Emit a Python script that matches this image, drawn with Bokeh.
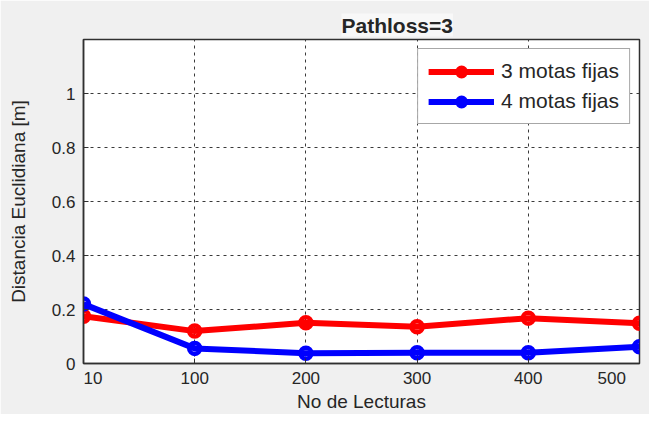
from bokeh.plotting import figure
from bokeh.models import FixedTicker, Range1d, Legend
from bokeh.embed import file_html
from bokeh.resources import INLINE

# ---- data ----
lecturas = [10, 100, 200, 300, 400, 500]
motas3 = [0.175, 0.12, 0.151, 0.136, 0.168, 0.149]
motas4 = [0.22, 0.056, 0.038, 0.04, 0.04, 0.062]
y_ticks = [0, 0.2, 0.4, 0.6, 0.8, 1.0]
y_tick_labels = ["0", "0.2", "0.4", "0.6", "0.8", "1"]
title_text = "Pathloss=3"
x_label = "No de Lecturas"
y_label = "Distancia Euclidiana [m]"
series_names = ["3 motas fijas", "4 motas fijas"]

xpos = list(range(1, len(lecturas) + 1))

FONT = "Liberation Sans"
TXT = "#262626"
AX = "#303030"
NB = "\u00a0"

p = figure(width=649, height=414, output_backend="svg", toolbar_location=None,
           x_range=Range1d(1, len(lecturas)), y_range=Range1d(0, 1.2),
           min_border_left=83, min_border_right=10, min_border_top=39, min_border_bottom=44)

p.background_fill_color = "white"
p.border_fill_color = "#f0f0f0"
p.outline_line_color = AX
p.outline_line_width = 1.5

# title
p.title.text = title_text
p.title.text_font = FONT
p.title.text_font_size = "21px"
p.title.text_font_style = "bold"
p.title.text_color = TXT
p.title.align = "left"
p.title.offset = 258
p.title.background_fill_color = "#f8f8f8"
p.title.standoff = 6

xt = FixedTicker(ticks=xpos)
yt = FixedTicker(ticks=y_ticks)

# end labels nudged inward as in the reference
x_labels = [str(l) for l in lecturas]
x_labels[0] = NB * 4 + x_labels[0]
x_labels[-1] = x_labels[-1] + NB * 5

for ax in p.xaxis:
    ax.ticker = xt
    ax.major_label_overrides = {x: s for x, s in zip(xpos, x_labels)}
for ax in p.yaxis:
    ax.ticker = yt
    ax.major_label_overrides = {v: s for v, s in zip(y_ticks, y_tick_labels)}

p.xaxis.axis_label = x_label
p.yaxis.axis_label = y_label
for ax in list(p.xaxis) + list(p.yaxis):
    ax.axis_label_text_font = FONT
    ax.axis_label_text_font_size = "19px"
    ax.axis_label_text_font_style = "normal"
    ax.axis_label_text_color = TXT
    ax.major_label_text_font = FONT
    ax.major_label_text_font_size = "17px"
    ax.major_label_text_color = TXT
    ax.axis_line_color = AX
    ax.axis_line_width = 1.5
    ax.major_tick_line_color = AX
    ax.major_tick_in = 5
    ax.major_tick_out = 0
    ax.minor_tick_line_color = None
p.xaxis.major_label_standoff = 5
p.xaxis.axis_label_standoff = 0
p.yaxis.major_label_standoff = 8
p.yaxis.axis_label_standoff = 20

# grid
p.xgrid.ticker = xt
p.ygrid.ticker = yt
for g in (p.xgrid[0], p.ygrid[0]):
    g.grid_line_color = "#3a3a3a"
    g.grid_line_dash = "3 4"
    g.grid_line_width = 1

# series
items = []
for ys, col, name in ((motas3, "#ff0000", series_names[0]), (motas4, "#0000ff", series_names[1])):
    r1 = p.line(xpos, ys, line_color=col, line_width=6)
    r2 = p.scatter(xpos, ys, marker="circle", size=11, line_color=col, line_width=4.5,
                   fill_alpha=0)
    items.append((name, [r1, r2]))

legend = Legend(items=items, location="top_right")
legend.margin = 9
legend.padding = 10
legend.spacing = 6
legend.glyph_width = 66
legend.glyph_height = 21
legend.label_height = 21
legend.label_standoff = 7
legend.label_text_font = FONT
legend.label_text_font_size = "21px"
legend.label_text_color = TXT
legend.border_line_color = "#505050"
legend.border_line_width = 1.5
legend.background_fill_color = "white"
legend.background_fill_alpha = 1
p.add_layout(legend, "center")

open("out.html", "w").write(file_html(p, INLINE))
